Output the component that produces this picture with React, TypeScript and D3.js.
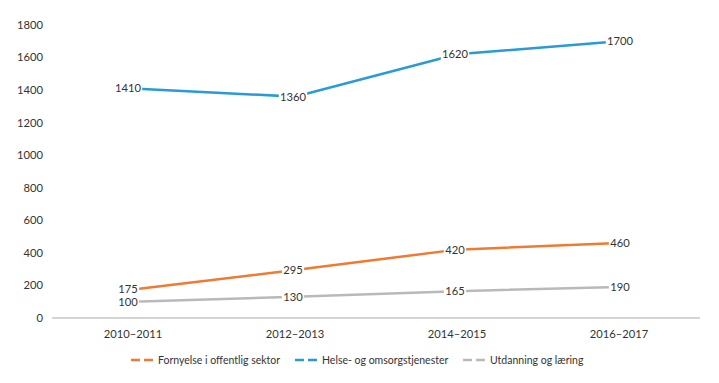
import React from "react";
import * as d3 from "d3";

const categories = ["2010–2011", "2012–2013", "2014–2015", "2016–2017"];
const seriesNames = ["Fornyelse i offentlig sektor", "Helse- og omsorgstjenester", "Utdanning og læring"];
const fornyelse = [175, 295, 420, 460];
const helse = [1410, 1360, 1620, 1700];
const utdanning = [100, 130, 165, 190];
const yTicks = [0, 200, 400, 600, 800, 1000, 1200, 1400, 1600, 1800];
const colors = ["#f07a32", "#279ad7", "#b9b9b9"];

const W = 719, H = 383;
const FONT = "Lato, 'Noto Sans', sans-serif";
const FS = 11.2;

export default function App() {
  const x = d3.scaleBand<string>().domain(categories).range([52, 700]);
  const y = d3.scaleLinear().domain([0, 1800]).range([318, 25]);
  const cx = (c: string) => (x(c) as number) + x.bandwidth() / 2;
  const series = [fornyelse, helse, utdanning];
  const line = d3.line<number>().x((_, i) => cx(categories[i])).y((d) => y(d));
  const legendX = [131, 295, 463];

  return (
    <svg width={W} height={H} style={{ position: "absolute", left: 0, top: 0, fontFamily: FONT }}>
      <rect width={W} height={H} fill="#fff" />
      {yTicks.map((t) => (
        <text key={t} x={43} y={y(t)} dy="0.35em" textAnchor="end" fontSize={FS} fill="#333">
          {t}
        </text>
      ))}
      <line x1={52} x2={700} y1={y(0)} y2={y(0)} stroke="#c6c6c6" strokeWidth={1.5} />
      {categories.map((c) => (
        <text key={c} x={cx(c)} y={334} dy="0.35em" textAnchor="middle" fontSize={FS} fill="#333">
          {c}
        </text>
      ))}
      {series.map((s, si) => (
        <path key={si} d={line(s) || ""} fill="none" stroke={colors[si]} strokeWidth={2.5} />
      ))}
      {series.map((s, si) =>
        s.map((v, i) => {
          const lx = cx(categories[i]) + (i === 0 ? -5 : i === 3 ? 1 : -2);
          const ly = y(v);
          const w = String(v).length * 6.1 + 4;
          return (
            <g key={si + "-" + i}>
              <rect x={lx - w / 2} y={ly - 6} width={w} height={12} fill="#fff" />
              <text x={lx} y={ly} dy="0.35em" textAnchor="middle" fontSize={FS} fill="#333">
                {v}
              </text>
            </g>
          );
        })
      )}
      {seriesNames.map((n, i) => (
        <g key={n} transform={`translate(${legendX[i]},360)`}>
          <line x1={0} x2={22} y1={0} y2={0} stroke={colors[i]} strokeWidth={2.5} strokeDasharray="9 4" />
          <text x={27} y={0} dy="0.35em" fontSize={10.5} fill="#333">
            {n}
          </text>
        </g>
      ))}
    </svg>
  );
}
